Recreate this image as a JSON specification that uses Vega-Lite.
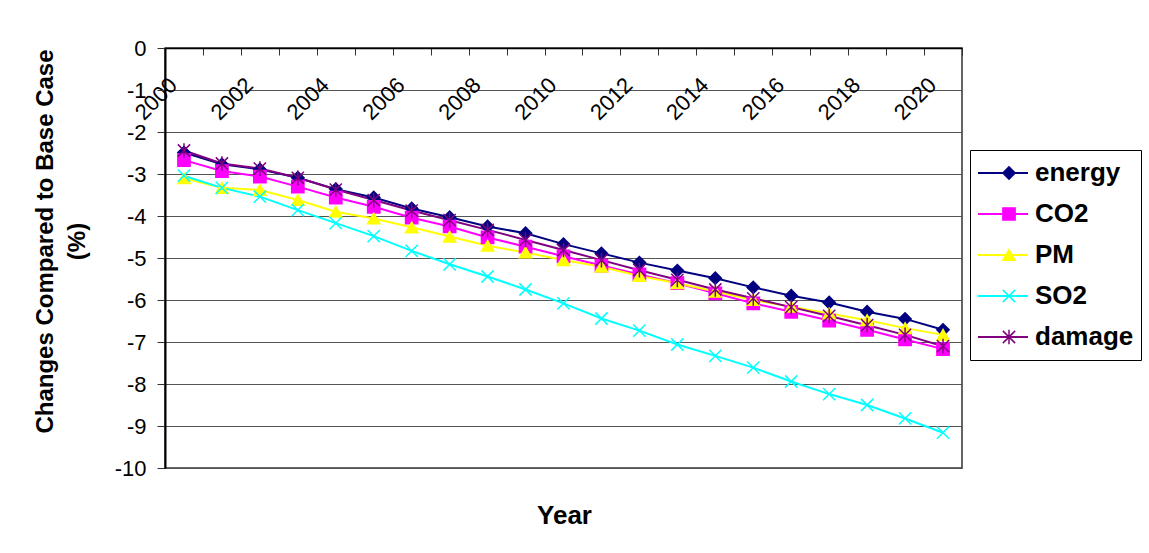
{
  "$schema": "https://vega.github.io/schema/vega-lite/v6.json",
  "width": 797,
  "height": 420,
  "autosize": {"type": "none"},
  "padding": {"left": 165, "top": 48, "right": 187, "bottom": 85},
  "background": "white",
  "config": {
    "font": "Liberation Sans",
    "view": {"stroke": "#333333", "strokeWidth": 1.5}
  },
  "data": {
    "values": [
      {"year": 2000, "energy": -2.49, "CO2": -2.67, "PM": -3.10, "SO2": -3.04, "damage": -2.44},
      {"year": 2001, "energy": -2.77, "CO2": -2.93, "PM": -3.33, "SO2": -3.33, "damage": -2.75},
      {"year": 2002, "energy": -2.89, "CO2": -3.06, "PM": -3.38, "SO2": -3.54, "damage": -2.87},
      {"year": 2003, "energy": -3.09, "CO2": -3.30, "PM": -3.62, "SO2": -3.86, "damage": -3.09},
      {"year": 2004, "energy": -3.36, "CO2": -3.56, "PM": -3.90, "SO2": -4.17, "damage": -3.37},
      {"year": 2005, "energy": -3.56, "CO2": -3.78, "PM": -4.06, "SO2": -4.48, "damage": -3.62},
      {"year": 2006, "energy": -3.82, "CO2": -4.04, "PM": -4.27, "SO2": -4.83, "damage": -3.87},
      {"year": 2007, "energy": -4.03, "CO2": -4.25, "PM": -4.49, "SO2": -5.15, "damage": -4.10},
      {"year": 2008, "energy": -4.25, "CO2": -4.51, "PM": -4.71, "SO2": -5.44, "damage": -4.33},
      {"year": 2009, "energy": -4.41, "CO2": -4.73, "PM": -4.87, "SO2": -5.75, "damage": -4.57},
      {"year": 2010, "energy": -4.67, "CO2": -4.96, "PM": -5.05, "SO2": -6.08, "damage": -4.81},
      {"year": 2011, "energy": -4.89, "CO2": -5.18, "PM": -5.21, "SO2": -6.44, "damage": -5.05},
      {"year": 2012, "energy": -5.11, "CO2": -5.39, "PM": -5.43, "SO2": -6.73, "damage": -5.29},
      {"year": 2013, "energy": -5.30, "CO2": -5.60, "PM": -5.60, "SO2": -7.06, "damage": -5.52},
      {"year": 2014, "energy": -5.48, "CO2": -5.84, "PM": -5.80, "SO2": -7.33, "damage": -5.75},
      {"year": 2015, "energy": -5.70, "CO2": -6.08, "PM": -6.00, "SO2": -7.61, "damage": -5.96},
      {"year": 2016, "energy": -5.90, "CO2": -6.28, "PM": -6.16, "SO2": -7.94, "damage": -6.17},
      {"year": 2017, "energy": -6.06, "CO2": -6.49, "PM": -6.32, "SO2": -8.24, "damage": -6.38},
      {"year": 2018, "energy": -6.28, "CO2": -6.71, "PM": -6.48, "SO2": -8.50, "damage": -6.60},
      {"year": 2019, "energy": -6.45, "CO2": -6.94, "PM": -6.67, "SO2": -8.82, "damage": -6.83},
      {"year": 2020, "energy": -6.71, "CO2": -7.17, "PM": -6.83, "SO2": -9.16, "damage": -7.10}
    ]
  },
  "transform": [
    {"fold": ["energy", "CO2", "PM", "SO2", "damage"], "as": ["series", "value"]}
  ],
  "encoding": {
    "x": {
      "field": "year",
      "type": "ordinal",
      "scale": {"type": "band", "paddingInner": 0, "paddingOuter": 0},
      "axis": {
        "orient": "bottom",
        "offset": -420,
        "domain": true,
        "domainColor": "#000000",
        "domainWidth": 1.5,
        "grid": false,
        "ticks": true,
        "tickBand": "extent",
        "tickSize": 7,
        "tickColor": "#333333",
        "tickWidth": 1,
        "labelAngle": -45,
        "labelFont": "Liberation Sans",
        "labelFontSize": 22,
        "labelColor": "#000000",
        "labelPadding": 19,
        "labelOffset": -18,
        "labelOverlap": false,
        "labelExpr": "datum.value % 2 == 0 ? datum.label : ''",
        "title": "Year",
        "titleFont": "Liberation Sans",
        "titleFontSize": 26,
        "titleFontWeight": "bold",
        "titleColor": "#000000",
        "titleX": 399,
        "titleY": 475,
        "titleBaseline": "alphabetic",
        "titleAlign": "center"
      }
    },
    "y": {
      "field": "value",
      "type": "quantitative",
      "scale": {"domain": [-10, 0], "nice": false, "zero": false},
      "axis": {
        "values": [0, -1, -2, -3, -4, -5, -6, -7, -8, -9, -10],
        "labelExpr": "'' + datum.value",
        "domainColor": "#000000",
        "domainWidth": 2,
        "grid": true,
        "gridColor": "#555555",
        "gridWidth": 1,
        "tickSize": 8,
        "tickColor": "#333333",
        "labelFont": "Liberation Sans",
        "labelFontSize": 22,
        "labelColor": "#000000",
        "labelPadding": 11,
        "title": ["Changes Compared to Base Case", "(%)"],
        "titleFont": "Liberation Sans",
        "titleFontSize": 24,
        "titleFontWeight": "bold",
        "titleColor": "#000000",
        "titleAngle": 270,
        "titleLineHeight": 32,
        "titleBaseline": "middle",
        "titleAlign": "center",
        "titleX": -120,
        "titleY": 193
      }
    }
  },
  "layer": [
    {
      "mark": {"type": "line", "strokeWidth": 2},
      "encoding": {
        "color": {
          "field": "series",
          "type": "nominal",
          "sort": ["energy", "CO2", "PM", "SO2", "damage"],
          "scale": {
            "range": ["#000080", "#FF00FF", "#FFFF00", "#00FFFF", "#800080"]
          },
          "legend": {
            "orient": "none",
            "legendX": 805,
            "legendY": 102,
            "padding": 7,
            "strokeColor": "#000000",
            "fillColor": "#FFFFFF",
            "title": null,
            "symbolType": "stroke",
            "symbolSize": 2500,
            "symbolStrokeWidth": 2,
            "clipHeight": 32,
            "rowPadding": 9,
            "labelOffset": 6,
            "labelFont": "Liberation Sans",
            "labelFontSize": 26,
            "labelFontWeight": "bold",
            "labelColor": "#000000",
            "labelLimit": 0
          }
        }
      }
    },
    {
      "mark": {"type": "point", "filled": true, "strokeWidth": 1.5, "opacity": 1, "size": 150},
      "encoding": {
        "fill": {
          "field": "series",
          "type": "nominal",
          "scale": {
            "domain": ["energy", "CO2", "PM", "SO2", "damage"],
            "range": ["#000080", "#FF00FF", "#FFFF00", "#00FFFF", "#800080"]
          },
          "legend": {
            "orient": "none",
            "legendX": 805,
            "legendY": 102,
            "padding": 7,
            "title": null,
            "symbolSize": 150,
            "symbolStrokeWidth": 1.5,
            "symbolOffset": 19,
            "clipHeight": 32,
            "rowPadding": 9,
            "labelOffset": 6,
            "labelFont": "Liberation Sans",
            "labelFontSize": 26,
            "labelFontWeight": "bold",
            "labelOpacity": 0,
            "labelExpr": "''",
            "labelLimit": 0
          }
        },
        "stroke": {
          "field": "series",
          "type": "nominal",
          "scale": {
            "domain": ["energy", "CO2", "PM", "SO2", "damage"],
            "range": ["#000080", "#FF00FF", "#FFFF00", "#00FFFF", "#800080"]
          },
          "legend": {
            "orient": "none",
            "legendX": 805,
            "legendY": 102,
            "padding": 7,
            "title": null,
            "symbolSize": 150,
            "symbolStrokeWidth": 1.5,
            "symbolOffset": 19,
            "clipHeight": 32,
            "rowPadding": 9,
            "labelOffset": 6,
            "labelFont": "Liberation Sans",
            "labelFontSize": 26,
            "labelFontWeight": "bold",
            "labelOpacity": 0,
            "labelExpr": "''",
            "labelLimit": 0
          }
        },
        "shape": {
          "field": "series",
          "type": "nominal",
          "scale": {
            "domain": ["energy", "CO2", "PM", "SO2", "damage"],
            "range": ["diamond", "square", "triangle-up", "M-1,-1L1,1M-1,1L1,-1", "M-1,-1L1,1M-1,1L1,-1M0,-1.2L0,1.2"]
          },
          "legend": {
            "orient": "none",
            "legendX": 805,
            "legendY": 102,
            "padding": 7,
            "title": null,
            "symbolSize": 150,
            "symbolStrokeWidth": 1.5,
            "symbolOffset": 19,
            "clipHeight": 32,
            "rowPadding": 9,
            "labelOffset": 6,
            "labelFont": "Liberation Sans",
            "labelFontSize": 26,
            "labelFontWeight": "bold",
            "labelOpacity": 0,
            "labelExpr": "''",
            "labelLimit": 0
          }
        }
      }
    }
  ]
}
